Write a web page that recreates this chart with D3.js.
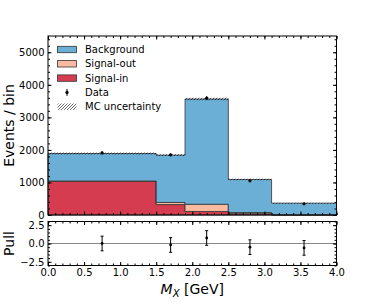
<!DOCTYPE html>
<html>
<head>
<meta charset="utf-8">
<script src="https://cdn.jsdelivr.net/npm/d3@7"></script>
<style>
  body { margin: 0; background: #fff; }
  text { font-family: "DejaVu Sans", sans-serif; }
</style>
</head>
<body>
<div id="chart"></div>
<script>
// bin edges in GeV
const edges = [0, 1.5, 1.9, 2.5, 3.1, 4.0];
// stacked MC components (events / bin)
const signalIn = [1040, 320, 108, 40, 3];
const signalOut = [5, 65, 222, 35, 5];
const background = [845, 1455, 3233, 1017, 355];
const mcErr = [30, 30, 40, 25, 15];
// observed data
const dataX = [0.75, 1.7, 2.2, 2.8, 3.55];
const dataY = [1910, 1850, 3590, 1050, 342];
// pulls
const pullY = [0.0, -0.2, 0.75, -0.5, -0.6];
const pullErr = [1, 1, 1, 1, 1];

const mainTicks = [0, 1000, 2000, 3000, 4000, 5000];
const pullTicks = [-2.5, 0, 2.5];
const xTicks = [0, 0.5, 1, 1.5, 2, 2.5, 3, 3.5, 4];

const colors = {bg: '#6baed6', sout: '#fcbba1', sin: '#d63c50', edge: '#333'};

const width = 374, height = 304;
const left = 48, right = 336.5;
const mainTop = 36, mainBottom = 215;
const pullTop = 221.5, pullBottom = 265.5;

const svg = d3.select('#chart').append('svg')
  .attr('width', width)
  .attr('height', height);

const defs = svg.append('defs');
const hatch = defs.append('pattern')
  .attr('id', 'hatch')
  .attr('patternUnits', 'userSpaceOnUse')
  .attr('width', 3).attr('height', 3);
hatch.append('path')
  .attr('d', 'M-1,1 l2,-2 M0,3 l3,-3 M2,4 l2,-2')
  .attr('stroke', '#000').attr('stroke-width', 0.6);

const x = d3.scaleLinear().domain([0, 4]).range([left, right]);
const y = d3.scaleLinear().domain([0, 5500]).range([mainBottom, mainTop]);
const yp = d3.scaleLinear().domain([-3, 3]).range([pullBottom, pullTop]);

// cumulative stack
const nb = edges.length - 1;
const cum0 = d3.range(nb).map(() => 0);
const cum1 = signalIn.slice();
const cum2 = cum1.map((v, i) => v + signalOut[i]);
const cum3 = cum2.map((v, i) => v + background[i]);

// step points: each bin gives two points (left edge, right edge)
function steps(lo, hi) {
  const pts = [];
  for (let i = 0; i < nb; i++) {
    pts.push({x: edges[i], lo: lo[i], hi: hi[i]});
    pts.push({x: edges[i + 1], lo: lo[i], hi: hi[i]});
  }
  return pts;
}

const area = d3.area()
  .x(d => x(d.x))
  .y0(d => y(d.lo))
  .y1(d => y(d.hi));

const layers = [
  {lo: cum0, hi: cum1, c: colors.sin},
  {lo: cum1, hi: cum2, c: colors.sout},
  {lo: cum2, hi: cum3, c: colors.bg}
];

const main = svg.append('g');
layers.forEach(l => {
  main.append('path')
    .datum(steps(l.lo, l.hi))
    .attr('d', area)
    .attr('fill', l.c)
    .attr('stroke', colors.edge)
    .attr('stroke-width', 0.8)
    .attr('stroke-linejoin', 'miter');
});

// MC uncertainty band
main.append('path')
  .datum(steps(cum3.map((v, i) => v - mcErr[i]), cum3.map((v, i) => v + mcErr[i])))
  .attr('d', area)
  .attr('fill', 'url(#hatch)');

// data points
dataX.forEach((dx, i) => {
  const e = Math.sqrt(dataY[i]);
  main.append('line')
    .attr('x1', x(dx)).attr('x2', x(dx))
    .attr('y1', y(dataY[i] - e)).attr('y2', y(dataY[i] + e))
    .attr('stroke', '#000').attr('stroke-width', 1);
  main.append('circle')
    .attr('cx', x(dx)).attr('cy', y(dataY[i])).attr('r', 1.6)
    .attr('fill', '#000');
});

// pull panel
svg.append('line')
  .attr('x1', left).attr('x2', right)
  .attr('y1', yp(0)).attr('y2', yp(0))
  .attr('stroke', '#888').attr('stroke-width', 1);
dataX.forEach((dx, i) => {
  const g = svg.append('g');
  g.append('line')
    .attr('x1', x(dx)).attr('x2', x(dx))
    .attr('y1', yp(pullY[i] - pullErr[i])).attr('y2', yp(pullY[i] + pullErr[i]))
    .attr('stroke', '#000').attr('stroke-width', 1);
  [pullY[i] - pullErr[i], pullY[i] + pullErr[i]].forEach(v => {
    g.append('line')
      .attr('x1', x(dx) - 1.5).attr('x2', x(dx) + 1.5)
      .attr('y1', yp(v)).attr('y2', yp(v))
      .attr('stroke', '#000').attr('stroke-width', 1);
  });
  g.append('circle')
    .attr('cx', x(dx)).attr('cy', yp(pullY[i])).attr('r', 1.4)
    .attr('fill', '#000');
});

// axes helpers
function ticks(axis, transform, major, minor, labels, fmt) {
  const g1 = svg.append('g').attr('transform', transform)
    .call(axis.tickValues(major).tickSize(-3.5).tickPadding(3.5)
      .tickFormat(labels ? fmt : ''));
  g1.select('.domain').remove();
  g1.selectAll('text').attr('font-size', 10).attr('fill', '#000')
    .style('font-family', '"DejaVu Sans", sans-serif');
  const g2 = svg.append('g').attr('transform', transform)
    .call(axis.tickValues(minor).tickSize(-2).tickFormat(''));
  g2.select('.domain').remove();
}

const xMinor = d3.range(0, 4.001, 0.1).map(v => +v.toFixed(1));
const yMinor = d3.range(0, 5500, 200);
const pMinor = d3.range(-3, 3.001, 0.5);
const xf = d3.format('.1f');

ticks(d3.axisBottom(x), `translate(0,${mainBottom})`, xTicks, xMinor, false);
ticks(d3.axisTop(x), `translate(0,${mainTop})`, xTicks, xMinor, false);
ticks(d3.axisLeft(y), `translate(${left},0)`, mainTicks, yMinor, true, d3.format('d'));
ticks(d3.axisRight(y), `translate(${right},0)`, mainTicks, yMinor, false);

ticks(d3.axisBottom(x), `translate(0,${pullBottom})`, xTicks, xMinor, true, xf);
ticks(d3.axisTop(x), `translate(0,${pullTop})`, xTicks, xMinor, false);
ticks(d3.axisLeft(yp), `translate(${left},0)`, pullTicks, pMinor, true, d => d3.format('.1f')(d).replace('-', '\u2212'));
ticks(d3.axisRight(yp), `translate(${right},0)`, pullTicks, pMinor, false);

// frames
[[mainTop, mainBottom], [pullTop, pullBottom]].forEach(([t, b]) => {
  svg.append('rect')
    .attr('x', left).attr('y', t)
    .attr('width', right - left).attr('height', b - t)
    .attr('fill', 'none').attr('stroke', '#000').attr('stroke-width', 1);
});

// labels
svg.append('text')
  .attr('transform', `translate(13.5,${(mainTop + mainBottom) / 2}) rotate(-90)`)
  .attr('text-anchor', 'middle').attr('font-size', 14)
  .text('Events / bin');
svg.append('text')
  .attr('transform', `translate(13.5,${(pullTop + pullBottom) / 2}) rotate(-90)`)
  .attr('text-anchor', 'middle').attr('font-size', 14)
  .text('Pull');
const xl = svg.append('text')
  .attr('x', (left + right) / 2).attr('y', 294)
  .attr('text-anchor', 'middle').attr('font-size', 14);
xl.append('tspan').attr('font-style', 'italic').text('M');
xl.append('tspan').attr('font-style', 'italic').attr('font-size', 10).attr('dy', 3).text('X');
xl.append('tspan').attr('dy', -3).text(' [GeV]');

// legend
const legendItems = [
  {label: 'Background', type: 'patch', c: colors.bg},
  {label: 'Signal-out', type: 'patch', c: colors.sout},
  {label: 'Signal-in', type: 'patch', c: colors.sin},
  {label: 'Data', type: 'data'},
  {label: 'MC uncertainty', type: 'hatch'}
];
const leg = svg.append('g');
legendItems.forEach((d, i) => {
  const cy = 49.5 + i * 14.3;
  if (d.type === 'patch') {
    leg.append('rect').attr('x', 57.5).attr('y', cy - 3.2)
      .attr('width', 19).attr('height', 6.4)
      .attr('fill', d.c).attr('stroke', colors.edge).attr('stroke-width', 0.8);
  } else if (d.type === 'hatch') {
    leg.append('rect').attr('x', 57.5).attr('y', cy - 3.2)
      .attr('width', 19).attr('height', 6.4)
      .attr('fill', 'url(#hatch)');
  } else {
    leg.append('line').attr('x1', 67).attr('x2', 67)
      .attr('y1', cy - 3.5).attr('y2', cy + 3.5)
      .attr('stroke', '#000').attr('stroke-width', 1);
    leg.append('circle').attr('cx', 67).attr('cy', cy).attr('r', 1.6).attr('fill', '#000');
  }
  leg.append('text').attr('x', 85).attr('y', cy + 3.6)
    .attr('font-size', 10).text(d.label);
});
</script>
</body>
</html>
